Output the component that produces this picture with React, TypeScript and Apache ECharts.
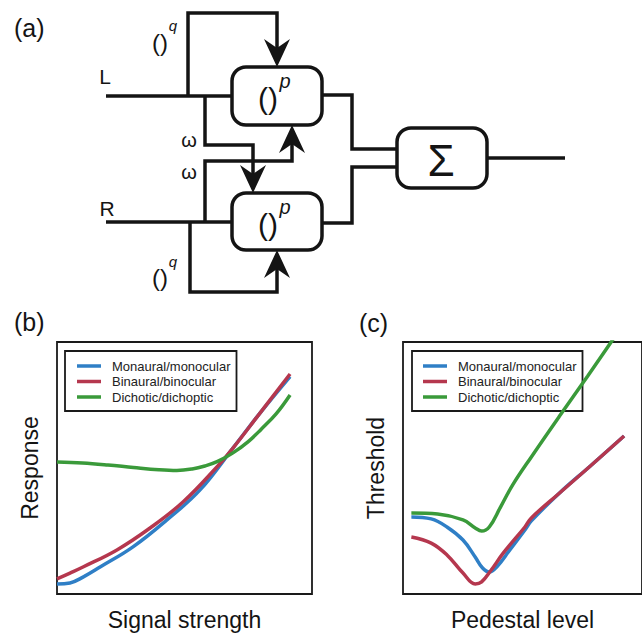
import React, { useEffect, useRef } from 'react';
import * as echarts from 'echarts';

const FONT = '"Liberation Sans", Arial, Helvetica, sans-serif';

const seriesNames = ['Monaural/monocular', 'Binaural/binocular', 'Dichotic/dichoptic'];
const seriesColors = ['#2f7fc6', '#b5374e', '#3a9a3a'];

// Panel (b): Response vs Signal strength
const bMonaural = [[0, 4.0], [5.1, 4.4], [10.2, 6.7], [16.9, 10.7], [29.8, 18.7], [43.1, 29.4], [56.1, 41.3], [69, 57.9], [79.6, 71.8], [91.4, 86.3]];
const bBinaural = [[0, 6.0], [5.1, 8.3], [10.2, 10.7], [23.5, 17.5], [36.5, 26.2], [49.4, 36.5], [62.7, 50.4], [69, 57.9], [79.6, 71.8], [91.4, 87.3]];
const bDichotic = [[0, 52.4], [10, 52], [20, 51.2], [30, 50.2], [40, 49.3], [47, 49], [53, 49.6], [58, 50.8], [63, 52.6], [69, 56], [75, 60.5], [80, 65.3], [86, 71.6], [91.4, 79]];

// Panel (c): Threshold vs Pedestal level
const cMonaural = [[3.5, 30.6], [11.8, 29.8], [18.4, 26.6], [25.1, 21.4], [30.2, 14.7], [33.3, 10.3], [36.1, 8.7], [39.2, 10.7], [44.7, 17.5], [51, 25.4], [53.7, 29], [65.5, 40.1], [78.4, 50.8], [92.5, 62.7]];
const cBinaural = [[3.5, 22.6], [11.8, 20.2], [18.4, 15.5], [25.1, 8.3], [30.2, 4.0], [32.9, 4.8], [36.9, 9.5], [42, 16.3], [51, 26.6], [53.7, 30.2], [65.5, 40.1], [78.4, 50.8], [92.5, 62.7]];
const cDichotic = [[3.5, 32.1], [14.5, 31.7], [25.1, 29.4], [30.2, 26.2], [32.9, 25], [36.1, 26.6], [40.8, 34.5], [45.9, 43.3], [53.7, 54.4], [65.5, 70.6], [77.3, 86.5], [87.1, 100], [92.9, 107.9]];

const panelLabels = ['(a)', '(b)', '(c)'];
const xTitles = ['Signal strength', 'Pedestal level'];
const yTitles = ['Response', 'Threshold'];

const INK = '#141414';
const LW = 3.5;

function line(points: number[][]) {
  return { type: 'polyline', shape: { points }, style: { stroke: INK, lineWidth: LW, fill: null, lineJoin: 'miter', lineCap: 'butt' }, z: 10 };
}
function arrow(tx: number, ty: number, dir: 'up' | 'down') {
  const s = dir === 'down' ? -1 : 1;
  return {
    type: 'polygon',
    shape: { points: [[tx, ty], [tx - 13, ty + s * 28], [tx, ty + s * 19], [tx + 13, ty + s * 28]] },
    style: { fill: INK },
    z: 12,
  };
}
function box(x: number, y: number, w: number, h: number) {
  return { type: 'rect', shape: { x, y, width: w, height: h, r: 14 }, style: { fill: '#fff', stroke: INK, lineWidth: LW }, z: 11 };
}
function txt(text: string, x: number, y: number, size: number, italic = false, align = 'center') {
  return {
    type: 'text', x, y, z: 13,
    style: { text, fill: INK, fontSize: size, fontFamily: FONT, fontStyle: italic ? 'italic' : 'normal', align, verticalAlign: 'middle' },
  };
}

function buildOption() {
  const graphic: any[] = [
    // panel labels
    txt(panelLabels[0], 14, 28, 25, false, 'left'),
    txt(panelLabels[1], 14, 322, 25, false, 'left'),
    txt(panelLabels[2], 359, 323, 25, false, 'left'),
    // inputs
    line([[106, 96], [232, 96]]),
    line([[106, 222], [232, 222]]),
    // top q loop
    line([[188, 96], [188, 13], [277, 13], [277, 48]]),
    arrow(277, 67, 'down'),
    // omega path L -> bottom box
    line([[205, 96], [205, 145], [253, 145], [253, 175]]),
    arrow(253, 193, 'down'),
    // omega path R -> top box
    line([[205, 222], [205, 161], [292, 161], [292, 143]]),
    arrow(292, 125, 'up'),
    // bottom q loop
    line([[190, 222], [190, 292], [277, 292], [277, 268]]),
    arrow(277, 250, 'up'),
    // outputs to sum
    line([[320, 95], [352, 95], [352, 149], [399, 149]]),
    line([[320, 223], [352, 223], [352, 167], [399, 167]]),
    line([[485, 158], [565, 158]]),
    // boxes
    box(232, 67, 90, 58),
    box(232, 193, 90, 57),
    box(397, 128, 90, 60),
    // texts in diagram
    txt('L', 105, 76, 21),
    txt('R', 107, 208, 21),
    txt('ω', 189, 140, 20),
    txt('ω', 189, 172, 20),
    txt('()', 160, 42, 24),
    txt('q', 173, 25, 15, true),
    txt('()', 160, 277, 24),
    txt('q', 173, 261, 15, true),
    txt('()', 268, 98, 30),
    txt('p', 285, 81, 20, true),
    txt('()', 268, 224, 30),
    txt('p', 285, 207, 20, true),
    txt('Σ', 441, 160, 44),
  ];

  const grids = [
    { left: 57, top: 342, width: 255, height: 252 },
    { left: 403, top: 342, width: 255, height: 252 },
  ].map((g) => ({ ...g, show: true, borderColor: '#1a1a1a', borderWidth: 1.8, backgroundColor: 'transparent' }));

  const xAxis = [0, 1].map((i) => ({
    type: 'value', gridIndex: i, min: 0, max: 100,
    axisLine: { show: false }, axisTick: { show: false }, axisLabel: { show: false }, splitLine: { show: false },
    name: xTitles[i], nameLocation: 'middle', nameGap: 14,
    nameTextStyle: { fontSize: 23, fontFamily: FONT, color: INK },
  }));
  const yAxis = [0, 1].map((i) => ({
    type: 'value', gridIndex: i, min: 0, max: 100,
    axisLine: { show: false }, axisTick: { show: false }, axisLabel: { show: false }, splitLine: { show: false },
    name: yTitles[i], nameLocation: 'middle', nameGap: 16, nameRotate: 90,
    nameTextStyle: { fontSize: 23, fontFamily: FONT, color: INK },
  }));

  const data = [
    [bMonaural, bBinaural, bDichotic],
    [cMonaural, cBinaural, cDichotic],
  ];
  const series: any[] = [];
  data.forEach((set, gi) => {
    set.forEach((d, si) => {
      series.push({
        type: 'line', name: seriesNames[si], xAxisIndex: gi, yAxisIndex: gi, data: d,
        smooth: 0.4, showSymbol: false, symbol: 'none', clip: true,
        lineStyle: { color: seriesColors[si], width: 3.5 }, itemStyle: { color: seriesColors[si] },
        z: 2 + si,
      });
    });
  });

  const legendBase = {
    orient: 'vertical', data: seriesNames, icon: 'rect', itemWidth: 24, itemHeight: 3.5, itemGap: 1.5,
    padding: [8, 6, 7, 12], borderColor: '#1a1a1a', borderWidth: 1.8, backgroundColor: 'transparent',
    textStyle: { fontSize: 13, fontFamily: FONT, color: '#222', lineHeight: 14, padding: [0, 0, 0, 6] },
    selectedMode: false,
  };
  const legend = [
    { ...legendBase, left: 65, top: 351 },
    { ...legendBase, left: 412, top: 351, padding: [8, 6, 7, 11] },
  ];

  return {
    animation: false,
    backgroundColor: '#ffffff',
    grid: grids,
    xAxis, yAxis, series, legend, graphic,
  };
}

export default function App() {
  const ref = useRef<HTMLDivElement>(null);
  useEffect(() => {
    const chart = echarts.init(ref.current as HTMLDivElement, null, { renderer: 'svg', width: 642, height: 634 });
    chart.setOption(buildOption() as any);
    return () => chart.dispose();
  }, []);
  return <div ref={ref} style={{ position: 'absolute', left: 0, top: 0, width: 642, height: 634, background: '#fff' }} />;
}
